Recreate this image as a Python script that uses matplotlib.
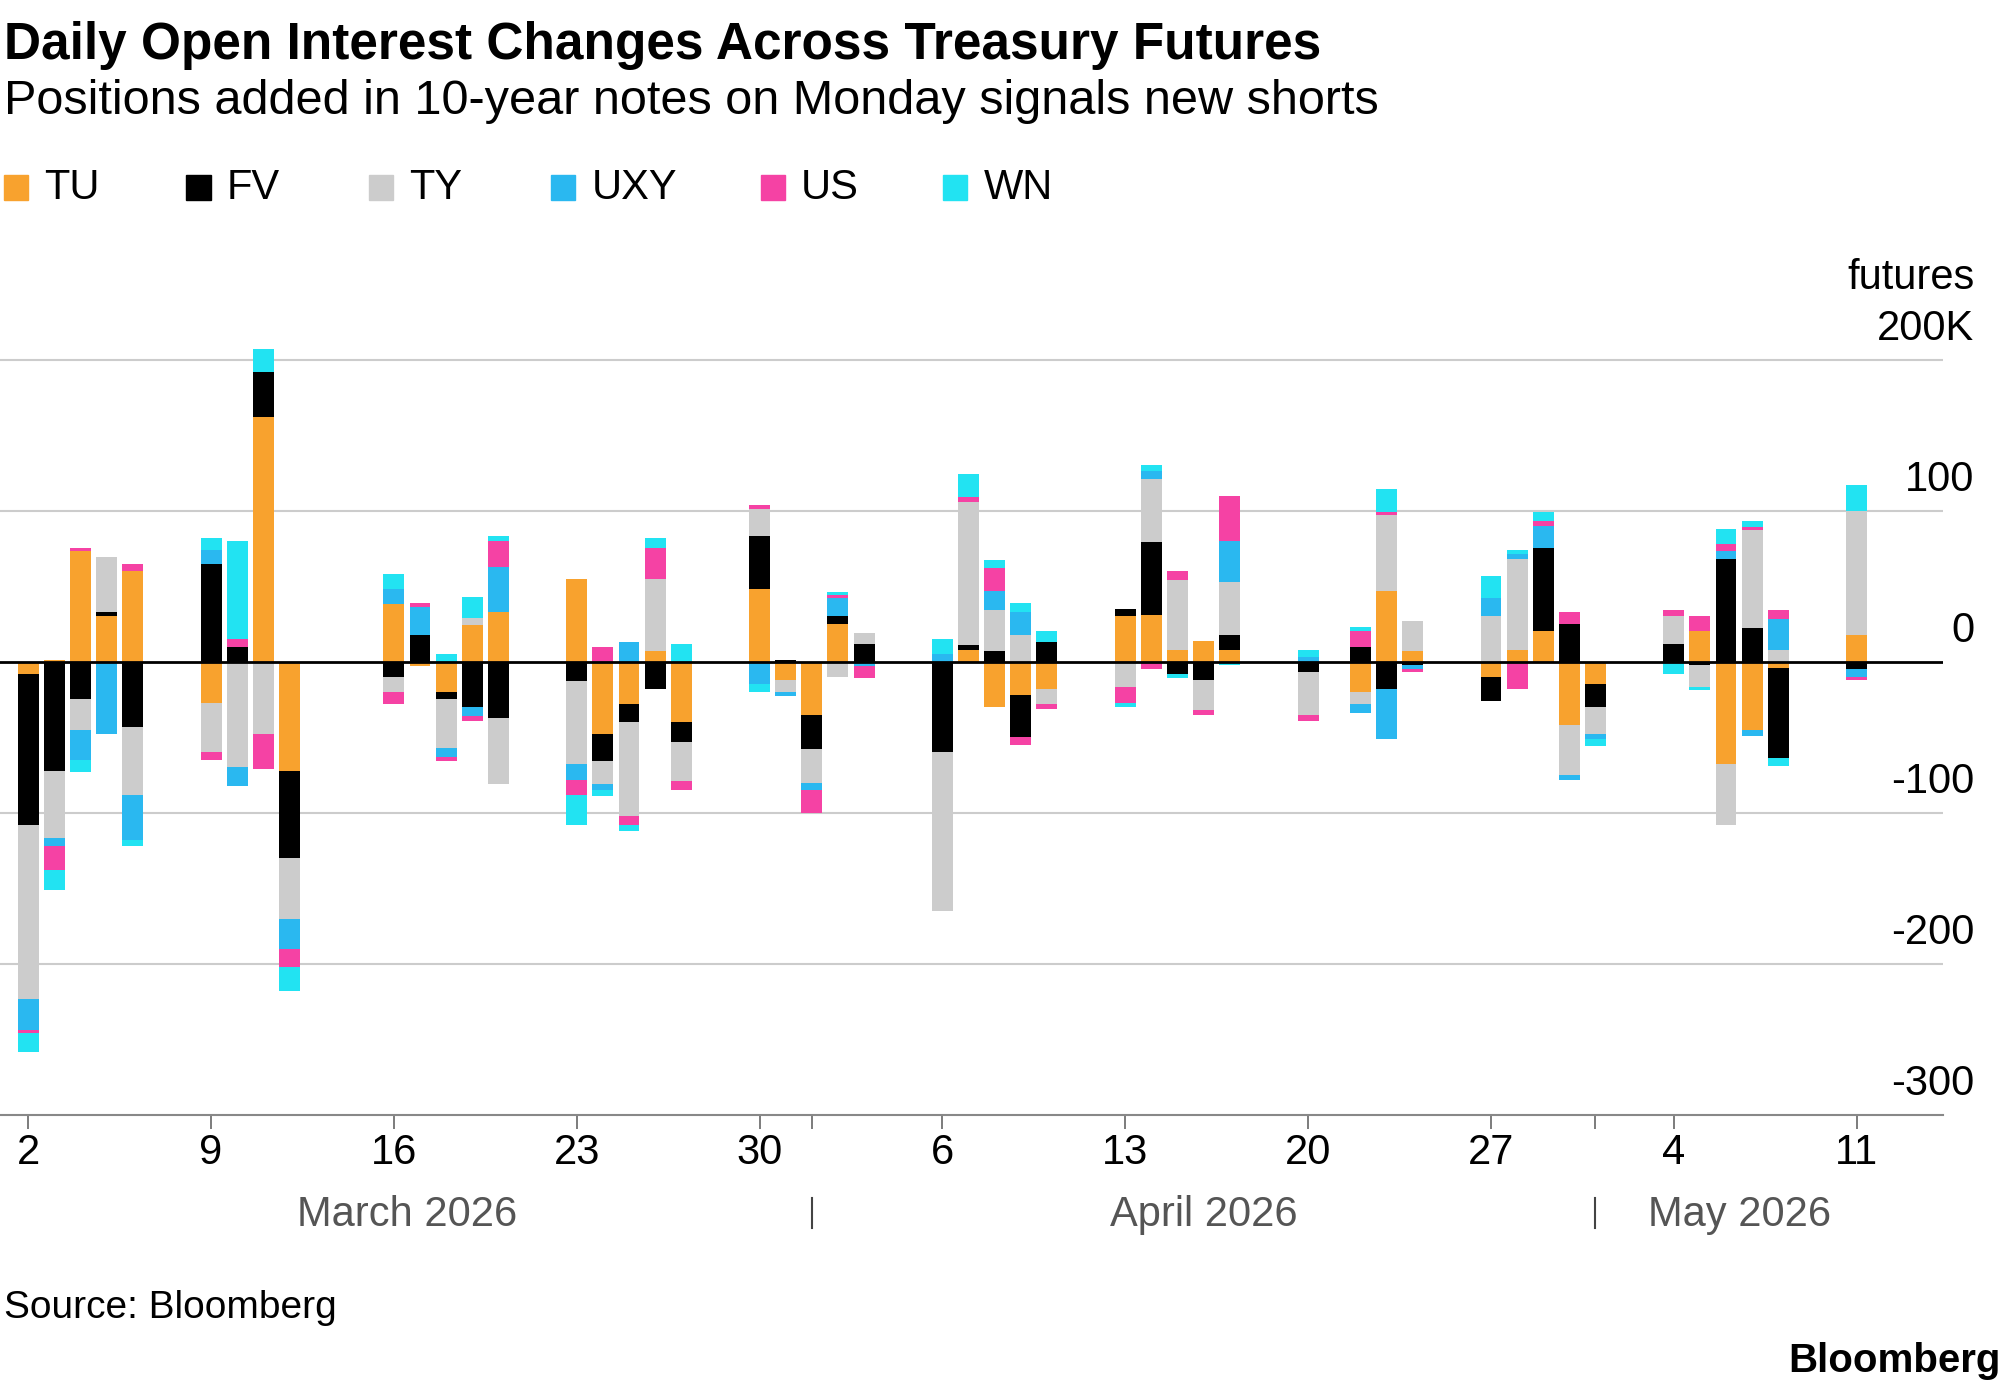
import numpy as np
import matplotlib.pyplot as plt
from matplotlib.patches import Rectangle

plt.rcParams['font.family'] = ['Liberation Sans', 'DejaVu Sans']

series = ["TU", "FV", "TY", "UXY", "US", "WN"]
colors = ["#f8a22e", "#000000", "#cccccc", "#2ab8f0", "#f542a4", "#22e3f2"]

# day offset from 2 March 2026
days = [0, 1, 2, 3, 4, 7, 8, 9, 10, 14, 15, 16, 17, 18, 21, 22, 23, 24, 25,
        28, 29, 30, 31, 32, 35, 36, 37, 38, 39, 42, 43, 44, 45, 46, 49, 51, 52, 53,
        56, 57, 58, 59, 60, 63, 64, 65, 66, 67, 70]

# daily changes in thousands of contracts, one row per day: TU FV TY UXY US WN
values = np.array([
    [-8, -100, -115, -21, -2, -12],
    [1, -72, -45, -5, -16, -13],
    [73, -25, -20, -20, 2, -8],
    [30, 3, 36, -48, 0, 0],
    [60, -43, -45, -30, 5, -4],
    [-27, 65, -33, 9, -5, 8],
    [0, 10, -70, -12, 5, 65],
    [162, 30, -48, 0, -23, 15],
    [-72, -58, -40, -20, -12, -16],
    [38, -10, -10, 10, -8, 10],
    [-3, 18, 0, 18, 3, 0],
    [-20, -5, -32, -6, -3, 5],
    [24, -30, 5, -6, -3, 14],
    [33, -37, -44, 30, 17, 3],
    [55, -13, -55, -10, -10, -20],
    [-48, -18, -15, -4, 10, -4],
    [-28, -12, -62, 13, -6, -4],
    [7, -18, 48, 0, 20, 7],
    [-40, -13, -26, 0, -6, 12],
    [48, 35, 18, -15, 3, -5],
    [-12, 1, -8, -3, 0, 0],
    [-35, -23, -22, -5, -15, 0],
    [25, 5, -10, 12, 2, 2],
    [0, 12, 7, -3, -8, 0],
    [0, -60, -105, 5, 0, 10],
    [8, 3, 95, 0, 3, 15],
    [-30, 7, 27, 13, 15, 5],
    [-22, -28, 18, 15, -5, 6],
    [-18, 13, -10, 0, -3, 7],
    [30, 5, -17, 0, -10, -3],
    [31, 48, 42, 5, -5, 4],
    [8, -8, 46, 0, 6, -3],
    [14, -12, -20, 0, -3, 0],
    [8, 10, 35, 27, 30, -2],
    [0, -7, -28, 3, -4, 5],
    [-20, 10, -8, -6, 10, 3],
    [47, -18, 50, -33, 2, 15],
    [7, -2, 20, -3, -2, 0],
    [-10, -16, 30, 12, 0, 15],
    [8, 0, 60, 3, -18, 3],
    [20, 55, 0, 15, 3, 6],
    [-42, 25, -33, -3, 8, 0],
    [-15, -15, -18, -3, 0, -5],
    [0, 12, 18, 0, 4, -8],
    [20, -2, -15, 0, 10, -2],
    [-68, 68, -40, 5, 5, 10],
    [-45, 22, 65, -4, 2, 4],
    [-4, -60, 8, 20, 6, -5],
    [18, -5, 82, -5, -2, 17],
])

tick_days = [0, 7, 14, 21, 28, 35, 42, 49, 56, 63, 70]
tick_labels = ["2", "9", "16", "23", "30", "6", "13", "20", "27", "4", "11"]
month_breaks = [30, 60]
months = [("March 2026", 14.5), ("April 2026", 45), ("May 2026", 65.5)]

fig = plt.figure(figsize=(20.05, 13.92), dpi=100)
ax = fig.add_axes([0.0, 0.199, 0.969, 0.559])

pos = np.zeros(len(days))
neg = np.zeros(len(days))
for j, (name, c) in enumerate(zip(series, colors)):
    v = values[:, j]
    b = np.where(v >= 0, pos, neg)
    ax.bar(days, v, bottom=b, width=0.8, color=c, zorder=3)
    pos += np.clip(v, 0, None)
    neg += np.clip(v, None, 0)

ax.set_xlim(-1.08, 73.3)
ax.set_ylim(-300, 215)
for y in [-200, -100, 100, 200]:
    ax.axhline(y, color="#cccccc", lw=1.5, zorder=1)
ax.axhline(0, color="black", lw=2, zorder=4)
for s in ax.spines.values():
    s.set_visible(False)
ax.axhline(-300, color="#888888", lw=1.5, clip_on=False)
ax.set_yticks([])
ylab_x = 74.5
for y in [100, 0, -100, -200, -300]:
    ax.text(ylab_x, y + 7, str(y), ha="right", va="bottom", fontsize=30, clip_on=False)
ax.text(ylab_x, 207, "200K", ha="right", va="bottom", fontsize=30, clip_on=False)
ax.text(ylab_x, 241, "futures", ha="right", va="bottom", fontsize=30, clip_on=False)

ax.set_xticks(tick_days)
ax.set_xticklabels(tick_labels, fontsize=30)
ax.set_xticks(month_breaks, minor=True)
ax.tick_params(axis="x", which="both", length=10, width=1.2, color="#666666", pad=3)
for m in month_breaks:
    ax.plot([m, m], [-355, -375], color="#444444", lw=1.5, clip_on=False)
for label, x in months:
    ax.text(x, -366, label, ha="center", va="center", fontsize=30, color="#555555")

fig.text(0.002, 0.985, "Daily Open Interest Changes Across Treasury Futures",
         fontsize=37, fontweight="bold", va="top")
fig.text(0.002, 0.943, "Positions added in 10-year notes on Monday signals new shorts",
         fontsize=35, va="top")
x0 = 0.002
for name, c in zip(series, colors):
    fig.patches.append(Rectangle((x0, 0.856), 0.012, 0.018, transform=fig.transFigure,
                                 color=c, figure=fig))
    fig.text(x0 + 0.02, 0.865, name, fontsize=30, va="center")
    x0 += 0.02 + 0.0135 * len(name) + 0.044
fig.text(0.002, 0.06, "Source: Bloomberg", fontsize=28, va="center")
fig.text(0.998, 0.022, "Bloomberg", fontsize=29, fontweight="bold", ha="right", va="center")

fig.savefig("out.png", dpi=100)
